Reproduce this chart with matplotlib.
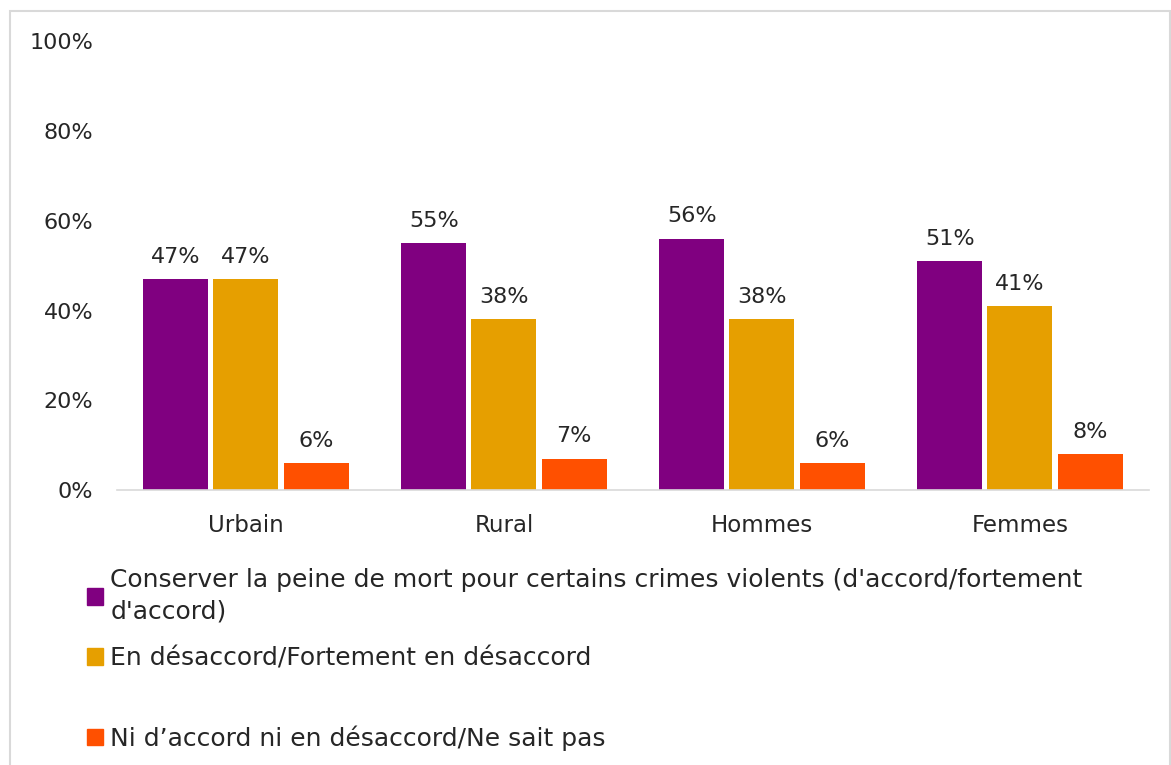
import matplotlib.pyplot as plt
from matplotlib.patches import Rectangle, Patch
import numpy as np

# data
groupes = ['Urbain', 'Rural', 'Hommes', 'Femmes']
series = [
    "Conserver la peine de mort pour certains crimes violents (d'accord/fortement\nd'accord)",
    "En désaccord/Fortement en désaccord",
    "Ni d’accord ni en désaccord/Ne sait pas",
]
conserver = [47, 55, 56, 51]
desaccord = [47, 38, 38, 41]
ni_nsp = [6, 7, 6, 8]
couleurs = ['#800080', '#E69F00', '#FF5000']
yticks = [0, 20, 40, 60, 80, 100]

plt.rcParams['font.family'] = ['DejaVu Sans']
txt = '#262626'

fig = plt.figure(figsize=(11.71, 7.65), dpi=100)
ax = fig.add_axes([0.0999, 0.3595, 0.8813, 0.5865])

# light grey frame round the whole chart
fig.patches.append(Rectangle((10 / 1171, -0.01), 1160 / 1171, 1 - 11 / 765 + 0.01,
                             transform=fig.transFigure, fill=False,
                             edgecolor='#D9D9D9', linewidth=1.5))

x = np.arange(len(groupes))
w = 0.252
for i, vals in enumerate([conserver, desaccord, ni_nsp]):
    bars = ax.bar(x + (i - 1) * (w + 0.02), vals, w, color=couleurs[i])
    for b, v in zip(bars, vals):
        ax.annotate(f'{v}%', (b.get_x() + b.get_width() / 2, v),
                    xytext=(0, 9), textcoords='offset points',
                    ha='center', va='bottom', fontsize=16, color=txt)

ax.set_xlim(-0.5, len(groupes) - 0.5)
ax.set_ylim(0, 100)
ax.set_yticks(yticks)
ax.set_yticklabels([f'{t}%' for t in yticks], fontsize=16, color=txt)
ax.set_xticks(x)
ax.set_xticklabels(groupes, fontsize=16.5, color=txt)
ax.tick_params(length=0)
ax.tick_params(axis='y', pad=17)
ax.tick_params(axis='x', pad=17)
for s in ['top', 'right', 'left']:
    ax.spines[s].set_visible(False)
ax.spines['bottom'].set_color('#D9D9D9')
ax.spines['bottom'].set_linewidth(1.2)

# legend entries placed one by one to keep the uneven spacing
ypos = [596, 658, 738]
for lab, c, yp in zip(series, couleurs, ypos):
    leg = fig.legend(handles=[Patch(color=c)], labels=[lab], loc='center left',
                     bbox_to_anchor=(64 / 1171, 1 - yp / 765), frameon=False,
                     fontsize=18, handlelength=0.65, handleheight=0.65,
                     handletextpad=0.3, labelcolor=txt)
    leg.get_texts()[0].set_linespacing(1.4)

fig.savefig('out.png', dpi=100)
